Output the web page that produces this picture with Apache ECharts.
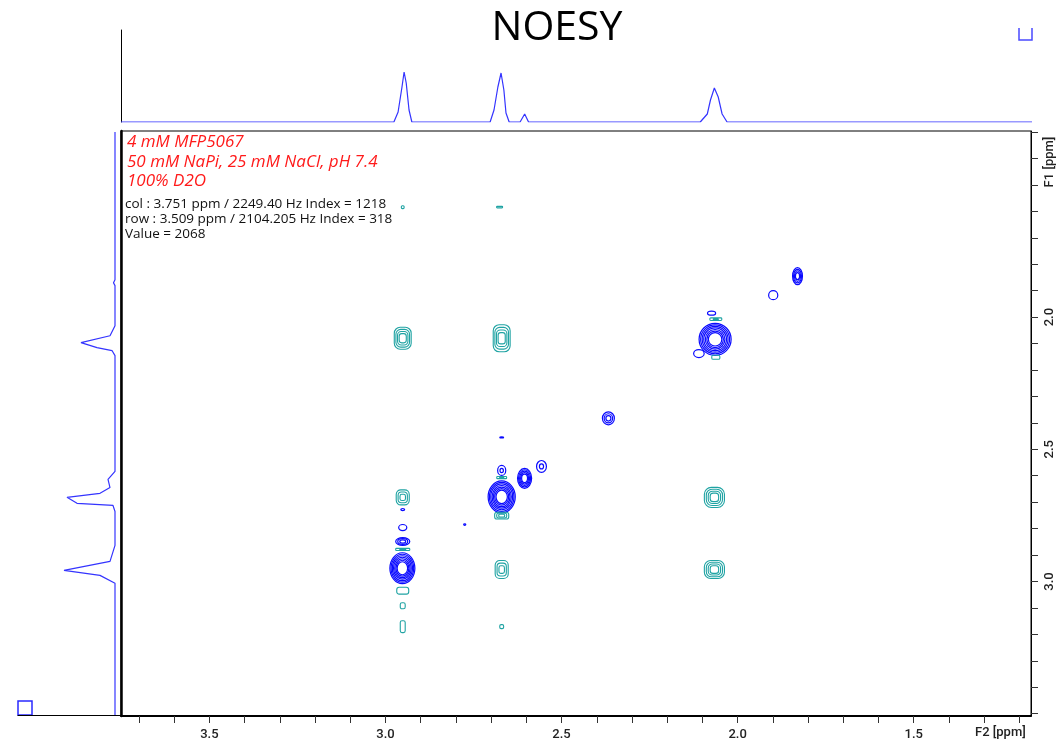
<!DOCTYPE html>
<html>
<head>
<meta charset="utf-8">
<script src="https://cdn.jsdelivr.net/npm/echarts@6/dist/echarts.min.js"></script>
<style>html,body{margin:0;padding:0;background:#fff}#chart{width:1056px;height:745px}</style>
</head>
<body>
<div id="chart"></div>
<script>
// ---- axis ranges / ticks (ppm) ----
const f2Range = [1.167, 3.751];
const f1Range = [1.296, 3.509];
const f2Ticks = [1.2,1.3,1.4,1.5,1.6,1.7,1.8,1.9,2.0,2.1,2.2,2.3,2.4,2.5,2.6,2.7,2.8,2.9,3.0,3.1,3.2,3.3,3.4,3.5,3.6,3.7];
const f2Labels = [1.5,2.0,2.5,3.0,3.5];
const f1Ticks = [1.3,1.4,1.5,1.6,1.7,1.8,1.9,2.0,2.1,2.2,2.3,2.4,2.5,2.6,2.7,2.8,2.9,3.0,3.1,3.2,3.3,3.4,3.5];
const f1Labels = [2.0,2.5,3.0];

// ---- top 1D projection (F2 ppm, intensity) ----
const topF2  = [3.751,2.977,2.965,2.954,2.948,2.942,2.934,2.926,2.704,2.693,2.682,2.673,2.665,2.659,2.650,2.619,2.606,2.595,2.108,2.088,2.079,2.068,2.057,2.046,2.032,1.836,1.833,1.829,1.167];
const topVal = [0,    0,    10,   35,   50,   39,   12,   0,    0,    12,   35,   49,   32,   9,    0,    0,    8,    0,    0,    8,    22,   34,   25,   8,    0,    0,    1.2,  0,    0];

// ---- left 1D projection (F1 ppm, intensity) ----
const leftF1  = [1.300,1.860,1.871,1.882,2.034,2.072,2.098,2.117,2.128,2.147,2.586,2.616,2.647,2.669,2.684,2.707,2.715,2.738,2.866,2.927,2.961,2.980,3.010,3.509];
const leftVal = [0,    0,    1.5,  0,    0,    5,    34,   18,   3,    0,    0,    7,    5,    15,   48,   38,   2,    0,    0,    5,    51,   15,   0,    0];

// ---- 2D contour peaks: [F2 ppm, F1 ppm, F2 width ppm, F1 width ppm, contour levels] ----
const positivePeaks = [
  [2.952, 2.950, 0.071, 0.117, 7],
  [2.670, 2.680, 0.077, 0.121, 7],
  [2.064, 2.084, 0.091, 0.121, 7],
  [2.605, 2.610, 0.040, 0.076, 5],
  [2.557, 2.565, 0.028, 0.045, 2],
  [2.367, 2.383, 0.034, 0.049, 3],
  [1.830, 1.845, 0.028, 0.064, 4],
  [1.899, 1.917, 0.026, 0.034, 1],
  [2.951, 2.849, 0.040, 0.030, 3],
  [2.951, 2.796, 0.023, 0.023, 1],
  [2.951, 2.728, 0.011, 0.008, 1],
  [2.670, 2.580, 0.023, 0.038, 2],
  [2.775, 2.785, 0.006, 0.006, 1],
  [2.670, 2.455, 0.011, 0.004, 1],
  [2.074, 1.985, 0.023, 0.015, 1],
  [2.110, 2.138, 0.030, 0.030, 1]
];
const negativePeaks = [
  [2.951, 2.682, 0.037, 0.057, 3],
  [2.951, 2.080, 0.048, 0.083, 4],
  [2.670, 2.080, 0.048, 0.102, 4],
  [2.066, 2.682, 0.057, 0.076, 4],
  [2.066, 2.955, 0.057, 0.068, 4],
  [2.670, 2.955, 0.037, 0.068, 3],
  [2.951, 2.879, 0.040, 0.008, 2],
  [2.670, 2.607, 0.028, 0.008, 2],
  [2.670, 2.751, 0.040, 0.026, 3],
  [2.062, 2.008, 0.034, 0.010, 2],
  [2.062, 2.152, 0.023, 0.015, 1],
  [2.951, 3.035, 0.034, 0.026, 1],
  [2.951, 3.092, 0.014, 0.023, 1],
  [2.951, 3.171, 0.014, 0.045, 1],
  [2.670, 3.171, 0.011, 0.015, 1],
  [2.951, 1.584, 0.008, 0.011, 1],
  [2.676, 1.584, 0.017, 0.006, 1]
];

// ---- annotation text ----
const sampleLines = ['4 mM MFP5067', '50 mM NaPi, 25 mM NaCl, pH 7.4', '100% D2O'];
const cursorLines = ['col : 3.751 ppm / 2249.40 Hz Index = 1218', 'row : 3.509 ppm / 2104.205 Hz Index = 318', 'Value = 2068'];

const BLUE = '#0a0aff';
const TEAL = '#1fa3a3';
const TRACE = '#3434ff';
const labelFont = 'Roboto';

function contourRenderer(color, rounded) {
  return function (params, api) {
    const c = api.coord([api.value(0), api.value(1)]);
    const s = api.size([api.value(2), api.value(3)], [api.value(0), api.value(1)]);
    const n = api.value(4);
    const children = [];
    for (let i = 0; i < n; i++) {
      const f = n === 1 ? 1 : 1 - i * 0.58 / (n - 1);
      const rx = Math.max(s[0] * f / 2, 0.8), ry = Math.max(s[1] * f / 2, 0.6);
      if (rounded) {
        children.push({type: 'rect', shape: {x: c[0] - rx, y: c[1] - ry, width: 2 * rx, height: 2 * ry, r: Math.min(rx, ry) * 0.7},
          style: {fill: 'none', stroke: color, lineWidth: 1.1}});
      } else {
        children.push({type: 'ellipse', shape: {cx: c[0], cy: c[1], rx: rx, ry: ry},
          style: {fill: 'none', stroke: color, lineWidth: 1.2}});
      }
    }
    return {type: 'group', children: children};
  };
}

const chart = echarts.init(document.getElementById('chart'), null, {renderer: 'canvas'});

const graphics = [];
sampleLines.forEach((t, i) => graphics.push({type: 'text', left: 127, top: 134 + i * 19.5,
  style: {text: t, fill: '#ff1a1a', font: 'italic 17px "Open Sans"'}}));
cursorLines.forEach((t, i) => graphics.push({type: 'text', left: 125, top: 197 + i * 15,
  style: {text: t, fill: '#111', font: '13.5px "Open Sans"'}}));
graphics.push({type: 'text', x: 975, y: 733, style: {text: 'F2 [ppm]', fill: '#222', font: '500 13px ' + labelFont, verticalAlign: 'middle'}});
graphics.push({type: 'text', x: 1050, y: 162, rotation: Math.PI / 2, style: {text: 'F1 [ppm]', fill: '#222', font: '500 13px ' + labelFont, align: 'center', verticalAlign: 'middle'}});
graphics.push({type: 'rect', shape: {x: 18, y: 701, width: 14, height: 14}, style: {fill: 'none', stroke: '#2a2aff', lineWidth: 1.5}});
graphics.push({type: 'polyline', shape: {points: [[1019, 28], [1019, 40], [1032, 40], [1032, 28]]}, style: {fill: 'none', stroke: '#4a4aff', lineWidth: 1.5}});

const option = {
  animation: false,
  backgroundColor: '#fff',
  title: {text: 'NOESY', left: 552, top: 3, textAlign: 'center',
    textStyle: {fontFamily: 'Open Sans', fontSize: 41, fontWeight: 'normal', color: '#000'}},
  grid: [
    {left: 121, top: 131, width: 911, height: 585, show: true, borderColor: '#000', borderWidth: 1, containLabel: false},
    {left: 121, top: 30, width: 911, height: 92, containLabel: false},
    {left: 18, top: 131, width: 103, height: 584, containLabel: false}
  ],
  xAxis: [
    {gridIndex: 0, type: 'value', min: f2Range[0], max: f2Range[1], inverse: true, position: 'bottom',
      axisLine: {show: true, lineStyle: {color: '#000', width: 2}},
      axisTick: {show: true, length: 7, lineStyle: {color: '#333'}, customValues: f2Ticks},
      axisLabel: {show: true, customValues: f2Labels, formatter: v => v.toFixed(1), margin: 12,
        fontFamily: labelFont, fontSize: 13, fontWeight: 500, color: '#222'},
      splitLine: {show: false}},
    {gridIndex: 1, type: 'value', min: f2Range[0], max: f2Range[1], inverse: true, show: false},
    {gridIndex: 2, type: 'value', min: -6, max: 97, inverse: true, position: 'bottom',
      axisLine: {show: true, lineStyle: {color: '#000', width: 1}}, axisTick: {show: false}, axisLabel: {show: false}, splitLine: {show: false}}
  ],
  yAxis: [
    {gridIndex: 0, type: 'value', min: f1Range[0], max: f1Range[1], inverse: true, position: 'right',
      axisLine: {show: true, lineStyle: {color: '#000', width: 1}},
      axisTick: {show: true, length: 7, lineStyle: {color: '#333'}, customValues: f1Ticks},
      axisLabel: {show: true, customValues: f1Labels, formatter: v => v.toFixed(1), rotate: 90, margin: 12,
        fontFamily: labelFont, fontSize: 13, fontWeight: 500, color: '#222'},
      splitLine: {show: false}},
    {gridIndex: 0, type: 'value', min: f1Range[0], max: f1Range[1], inverse: true, position: 'left',
      axisLine: {show: true, lineStyle: {color: '#000', width: 2.5}}, axisTick: {show: false}, axisLabel: {show: false}, splitLine: {show: false}},
    {gridIndex: 1, type: 'value', min: 0, max: 92, position: 'left',
      axisLine: {show: true, lineStyle: {color: '#000', width: 1}}, axisTick: {show: false}, axisLabel: {show: false}, splitLine: {show: false}},
    {gridIndex: 2, type: 'value', min: f1Range[0], max: f1Range[1], inverse: true, show: false}
  ],
  series: [
    {name: 'positive', type: 'custom', xAxisIndex: 0, yAxisIndex: 0, clip: true, encode: {x: 0, y: 1},
      renderItem: contourRenderer(BLUE, false), data: positivePeaks, silent: true},
    {name: 'negative', type: 'custom', xAxisIndex: 0, yAxisIndex: 0, clip: true, encode: {x: 0, y: 1},
      renderItem: contourRenderer(TEAL, true), data: negativePeaks, silent: true},
    {name: 'F2 projection', type: 'line', xAxisIndex: 1, yAxisIndex: 2, showSymbol: false, silent: true,
      lineStyle: {color: TRACE, width: 1.2}, data: topF2.map((x, i) => [x, topVal[i]])},
    {name: 'F1 projection', type: 'line', xAxisIndex: 2, yAxisIndex: 3, showSymbol: false, silent: true,
      lineStyle: {color: TRACE, width: 1.2}, data: leftF1.map((y, i) => [leftVal[i], y])}
  ],
  graphic: graphics
};
chart.setOption(option);
</script>
</body>
</html>
